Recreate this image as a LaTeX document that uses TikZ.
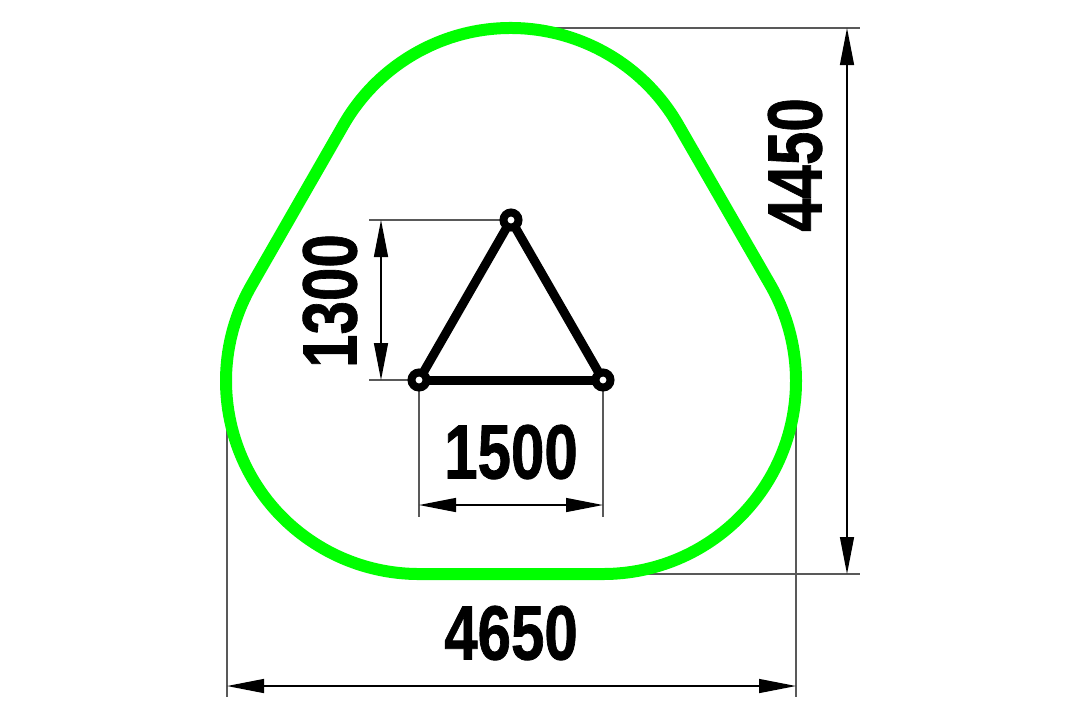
\documentclass[tikz,border=0pt]{standalone}
\usepackage{fontspec}
\setmainfont[BoldFeatures={FakeBold=1.1}]{Liberation Sans}
\usetikzlibrary{arrows.meta}

\tikzset{
    pole/.style={circle, draw=black, fill=white, line width=4pt, outer sep=0pt, minimum size=7.5pt, inner sep=0pt},
    frame/.style={line width=4.5pt, black},
    border/.style={line width=6pt, color={rgb,255:red,0;green,255;blue,0}},
    extline/.style={line width=0.6pt, black!65},
    dimline/.style={line width=0.7pt, black, {Triangle[length=18.5pt,width=7pt]}-{Triangle[length=18.5pt,width=7pt]}},
    dimtext/.style={inner sep=0pt, xscale=0.78, font=\bfseries\fontsize{38.5}{38.5}\selectfont}
}

\begin{document}
\begin{tikzpicture}[x=0.5pt, y=-0.5pt]
        \useasboundingbox (0,0) rectangle (1080,720);

        % Extension lines
        \coordinate (topA) at (511,28);
        \coordinate (topB) at (860,28);
        \coordinate (botA) at (640,574);
        \coordinate (botB) at (860,574);
        \coordinate (leftA) at (227,420);
        \coordinate (leftB) at (227,697);
        \coordinate (rightA) at (796,420);
        \coordinate (rightB) at (796,697);
        \coordinate (apexB) at (369,220);
        \coordinate (baseB) at (369,380);
        \coordinate (baseL) at (419,517);
        \coordinate (baseR) at (603,517);
        \draw[extline] (topA) -- (topB);
        \draw[extline] (botA) -- (botB);
        \draw[extline] (leftA) -- (leftB);
        \draw[extline] (rightA) -- (rightB);

        % Green border around the posts
        \draw[border] (678,124.5) arc (-30:-150:193) -- (251.9,284.5)
            arc (210:90:193) -- (603,574) arc (90:-30:193) -- cycle;

        % Post positions
        \coordinate (apex) at (511,220);
        \coordinate (left) at (419,380);
        \coordinate (right) at (603,380);
        \draw[extline] (apexB) -- (apex);
        \draw[extline] (baseB) -- (left);
        \draw[extline] (left) -- (baseL);
        \draw[extline] (right) -- (baseR);

        % Frame between the posts
        \draw[frame] (apex) -- (left);
        \draw[frame] (left) -- (right);
        \draw[frame] (right) -- (apex);
        \node[pole] (poleA) at (apex) {};
        \node[pole] (poleL) at (left) {};
        \node[pole] (poleR) at (right) {};

        % Dimension arrows
        \coordinate (d1) at (227,686);
        \coordinate (d2) at (796,686);
        \draw[dimline] (d1) -- (d2);
        \coordinate (d3) at (847,28);
        \coordinate (d4) at (847,574);
        \draw[dimline] (d3) -- (d4);
        \coordinate (d5) at (381,220);
        \coordinate (d6) at (381,380);
        \draw[dimline] (d5) -- (d6);
        \coordinate (d7) at (419,505);
        \coordinate (d8) at (603,505);
        \draw[dimline] (d7) -- (d8);

        % Dimension labels
        \node[dimtext] (width) at (511,633) {4650};
        \node[dimtext] (inner) at (511,452) {1500};
        \node[rotate=90, dimtext] (height) at (795,165) {4450};
        \node[rotate=90, dimtext] (rise) at (330,301) {1300};
\end{tikzpicture}
\end{document}
